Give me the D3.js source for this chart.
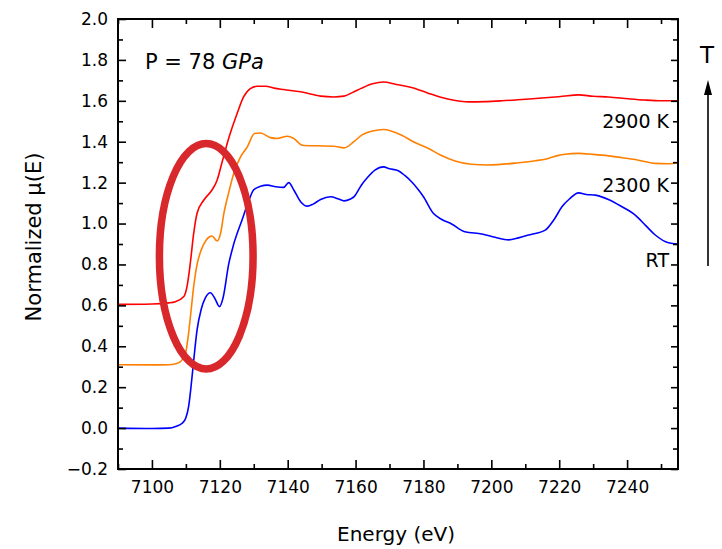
<!DOCTYPE html>
<html>
<head>
<meta charset="utf-8">
<script src="https://cdn.jsdelivr.net/npm/d3@7"></script>
<style>
  html, body { margin: 0; padding: 0; background: #fff; }
  svg text { font-family: "Comic Sans MS", "DejaVu Sans", sans-serif; fill: #000; }
</style>
</head>
<body>
<svg id="chart" width="722" height="549"></svg>
<script>
// XANES spectra at P = 78 GPa, three temperatures (offset vertically)
const energyRT = [7090, 7100, 7105, 7107, 7109, 7110, 7110.8, 7111.5, 7112.3, 7113.3, 7114.5, 7115.7, 7117.2, 7118.5, 7119.9, 7121, 7122.6, 7124.1, 7126.6, 7128.5, 7130, 7132, 7134, 7136.5, 7138.8, 7140.3, 7141.8, 7143.8, 7145.8, 7147.5, 7149.7, 7152.6, 7155, 7156.6, 7158.5, 7159.5, 7161.8, 7163.5, 7165.7, 7168.2, 7170, 7172.6, 7174.5, 7176.5, 7178.5, 7180, 7182.9, 7185.4, 7188.3, 7192.2, 7197.2, 7201.1, 7205.1, 7208, 7211, 7215.9, 7218.5, 7220.8, 7223, 7225.7, 7228, 7230.6, 7234.5, 7238.5, 7242.4, 7245.5, 7248.3, 7252.2, 7255];
const muRT = [0.0, -0.002, 0.0, 0.008, 0.025, 0.05, 0.105, 0.2, 0.33, 0.48, 0.58, 0.635, 0.662, 0.635, 0.594, 0.64, 0.8, 0.9, 1.02, 1.11, 1.165, 1.182, 1.188, 1.18, 1.177, 1.2, 1.164, 1.107, 1.085, 1.095, 1.118, 1.131, 1.12, 1.111, 1.12, 1.13, 1.19, 1.225, 1.261, 1.277, 1.268, 1.258, 1.235, 1.204, 1.165, 1.131, 1.05, 1.02, 0.998, 0.96, 0.949, 0.933, 0.92, 0.93, 0.944, 0.968, 1.02, 1.082, 1.12, 1.15, 1.142, 1.139, 1.118, 1.082, 1.041, 0.99, 0.944, 0.906, 0.9];

const energy2300 = [7090, 7100, 7105, 7107, 7108.4, 7109.9, 7110.8, 7111.5, 7112.3, 7113.3, 7114.5, 7116, 7117.7, 7119.2, 7120.2, 7121.2, 7122.6, 7124.1, 7126.1, 7128.1, 7130.2, 7132, 7134.9, 7136.9, 7139.9, 7141.8, 7144.3, 7148.7, 7153.6, 7156.6, 7159.5, 7161.8, 7165, 7168.2, 7173.6, 7177, 7181.5, 7185, 7189.3, 7194, 7199.1, 7208, 7213, 7216.8, 7219.5, 7221.7, 7225.7, 7230, 7234.5, 7238.5, 7242.4, 7248.3, 7252, 7255];
const mu2300 = [0.31, 0.309, 0.31, 0.315, 0.325, 0.366, 0.464, 0.57, 0.692, 0.8, 0.87, 0.92, 0.939, 0.915, 0.95, 1.05, 1.15, 1.245, 1.326, 1.375, 1.44, 1.443, 1.42, 1.416, 1.427, 1.416, 1.383, 1.38, 1.378, 1.37, 1.4, 1.432, 1.452, 1.46, 1.432, 1.4, 1.367, 1.335, 1.306, 1.29, 1.286, 1.297, 1.307, 1.318, 1.332, 1.339, 1.343, 1.338, 1.331, 1.322, 1.313, 1.294, 1.292, 1.297];

const energy2900 = [7090, 7100, 7105, 7106.9, 7109.4, 7110.5, 7111.3, 7112.3, 7113.3, 7115.3, 7117.7, 7119.2, 7120.7, 7122.6, 7125.1, 7127, 7129, 7131, 7133.5, 7136, 7138.8, 7143.8, 7149.7, 7153.6, 7156.6, 7159, 7161.8, 7165, 7168.2, 7172, 7176.5, 7181, 7185.4, 7189, 7193.3, 7198, 7203.1, 7210, 7216.8, 7221, 7225.7, 7230, 7234.5, 7240.4, 7245, 7250.3, 7255];
const mu2900 = [0.605, 0.607, 0.612, 0.618, 0.643, 0.708, 0.806, 0.952, 1.05, 1.115, 1.164, 1.212, 1.302, 1.416, 1.538, 1.619, 1.66, 1.671, 1.671, 1.662, 1.655, 1.644, 1.623, 1.619, 1.623, 1.64, 1.662, 1.683, 1.692, 1.68, 1.665, 1.64, 1.616, 1.603, 1.595, 1.596, 1.6, 1.608, 1.616, 1.622, 1.629, 1.622, 1.619, 1.61, 1.604, 1.6, 1.6];

const seriesNames = ["RT", "2300 K", "2900 K"];
const seriesColors = ["#0000ff", "#ff8000", "#ff0000"];
// Vertical anchor (in data units) of each series label
const labelValues = [0.787, 1.154, 1.467];

// Axis ticks
const xMajorTicks = [7100, 7120, 7140, 7160, 7180, 7200, 7220, 7240];
const xMinorTicks = [7090, 7110, 7130, 7150, 7170, 7190, 7210, 7230, 7250];
const yMajorTicks = [-0.2, 0.0, 0.2, 0.4, 0.6, 0.8, 1.0, 1.2, 1.4, 1.6, 1.8, 2.0];
const yMinorTicks = [-0.1, 0.1, 0.3, 0.5, 0.7, 0.9, 1.1, 1.3, 1.5, 1.7, 1.9];

// Highlighted pre-edge region (centre and half-axes in data units)
const ellipseCenter = [7116.0, 0.840];
const ellipseRadii = [13.8, 0.551];

const margin = { top: 19, right: 44, bottom: 80, left: 118 };
const W = 722, H = 549;
const innerW = W - margin.left - margin.right;
const innerH = H - margin.top - margin.bottom;

const svg = d3.select("#chart");
const g = svg.append("g").attr("transform", `translate(${margin.left},${margin.top})`);

const x = d3.scaleLinear().domain([7090, 7255]).range([0, innerW]);
const y = d3.scaleLinear().domain([-0.2, 2.0]).range([innerH, 0]);

// Clip curves to the plotting area
svg.append("defs").append("clipPath").attr("id", "plotClip")
  .append("rect").attr("width", innerW).attr("height", innerH);

const line = d3.line()
  .x(d => x(d[0]))
  .y(d => y(d[1]))
  .curve(d3.curveMonotoneX);

const series = [
  d3.zip(energyRT, muRT),
  d3.zip(energy2300, mu2300),
  d3.zip(energy2900, mu2900)
];

const curves = g.append("g").attr("clip-path", "url(#plotClip)");
series.forEach((pts, i) => {
  curves.append("path")
    .datum(pts)
    .attr("fill", "none")
    .attr("stroke", seriesColors[i])
    .attr("stroke-width", 1.6)
    .attr("stroke-linejoin", "round")
    .attr("d", line);
});

// Ellipse marking the pre-edge features
g.append("ellipse")
  .attr("cx", x(ellipseCenter[0]))
  .attr("cy", y(ellipseCenter[1]))
  .attr("rx", x(ellipseCenter[0] + ellipseRadii[0]) - x(ellipseCenter[0]))
  .attr("ry", y(ellipseCenter[1] - ellipseRadii[1]) - y(ellipseCenter[1]))
  .attr("fill", "none")
  .attr("stroke", "#d8282c")
  .attr("stroke-width", 7.5);

// Axes: ticks point inward on all four sides
const fmtY = d3.format(".1f");
function styleAxis(sel) {
  sel.select(".domain").remove();
  sel.selectAll(".tick line").attr("stroke", "#000").attr("stroke-width", 1.6);
  sel.selectAll(".tick text").style("font-size", "17px");
}

g.append("g").attr("transform", `translate(0,${innerH})`)
  .call(d3.axisBottom(x).tickValues(xMajorTicks).tickSize(-9).tickPadding(12).tickFormat(d3.format("d")))
  .call(styleAxis);
g.append("g").attr("transform", `translate(0,${innerH})`)
  .call(d3.axisBottom(x).tickValues(xMinorTicks).tickSize(-5).tickFormat(""))
  .call(styleAxis);
g.append("g")
  .call(d3.axisTop(x).tickValues(xMajorTicks).tickSize(-9).tickFormat(""))
  .call(styleAxis);
g.append("g")
  .call(d3.axisTop(x).tickValues(xMinorTicks).tickSize(-5).tickFormat(""))
  .call(styleAxis);

g.append("g")
  .call(d3.axisLeft(y).tickValues(yMajorTicks).tickSize(-8).tickPadding(10).tickFormat(fmtY))
  .call(styleAxis);
g.append("g")
  .call(d3.axisLeft(y).tickValues(yMinorTicks).tickSize(-5).tickFormat(""))
  .call(styleAxis);
g.append("g").attr("transform", `translate(${innerW},0)`)
  .call(d3.axisRight(y).tickValues(yMajorTicks).tickSize(-7).tickFormat(""))
  .call(styleAxis);
g.append("g").attr("transform", `translate(${innerW},0)`)
  .call(d3.axisRight(y).tickValues(yMinorTicks).tickSize(-5).tickFormat(""))
  .call(styleAxis);

// Frame
g.append("rect")
  .attr("width", innerW).attr("height", innerH)
  .attr("fill", "none").attr("stroke", "#000").attr("stroke-width", 2);

// Axis titles
svg.append("text")
  .attr("x", margin.left + innerW / 2 - 2)
  .attr("y", 541)
  .attr("text-anchor", "middle")
  .style("font-size", "20px")
  .text("Energy (eV)");

svg.append("text")
  .attr("transform", `translate(41,${237}) rotate(-90)`)
  .attr("text-anchor", "middle")
  .style("font-size", "21px")
  .text("Normalized μ(E)");

// Pressure annotation
const pLabel = svg.append("text")
  .attr("x", 145).attr("y", 69)
  .style("font-size", "21px");
pLabel.append("tspan").text("P = 78 ");
pLabel.append("tspan").style("font-style", "italic").text("GPa");

// Series labels, right-aligned near the right axis
seriesNames.forEach((name, i) => {
  g.append("text")
    .attr("x", innerW - 9)
    .attr("y", y(labelValues[i]))
    .attr("text-anchor", "end")
    .style("font-size", "19px")
    .text(name);
});

// Temperature arrow
const arrowX = 708;
svg.append("line")
  .attr("x1", arrowX).attr("x2", arrowX)
  .attr("y1", 266).attr("y2", 92)
  .attr("stroke", "#000").attr("stroke-width", 1.6);
svg.append("path")
  .attr("d", `M${arrowX},80 L${arrowX - 4},95 L${arrowX + 4},95 Z`)
  .attr("fill", "#000");
svg.append("text")
  .attr("x", arrowX - 1).attr("y", 63)
  .attr("text-anchor", "middle")
  .style("font-size", "23px")
  .text("T");
</script>
</body>
</html>
